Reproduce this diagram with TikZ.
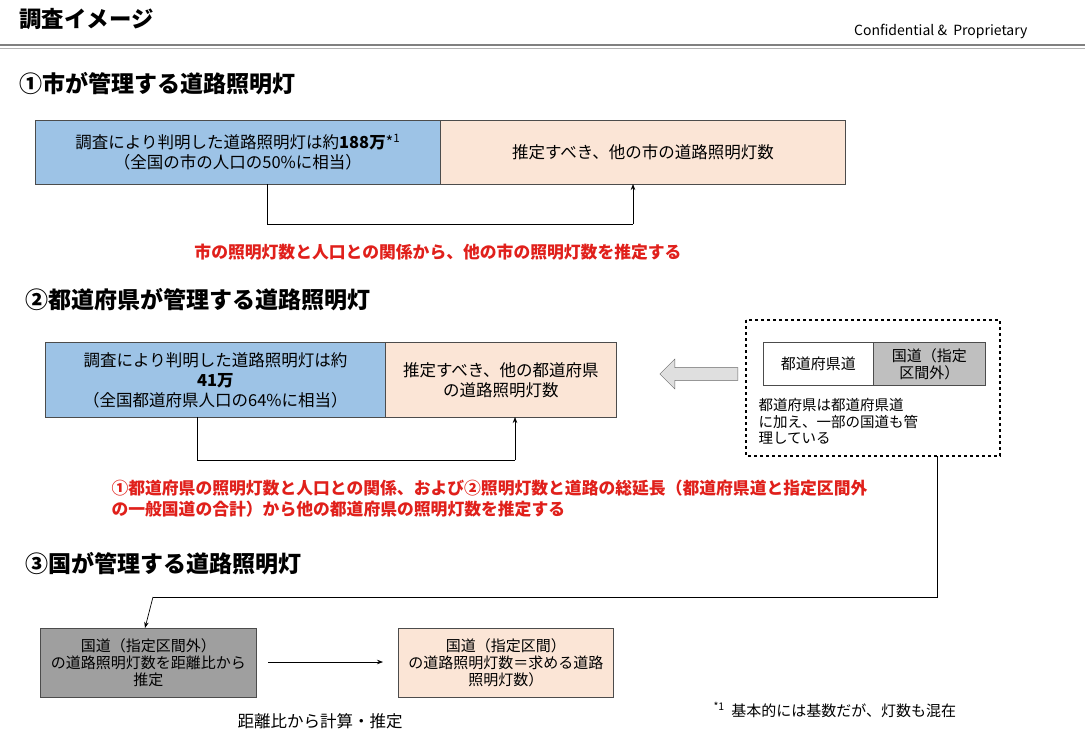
\documentclass[tikz,border=0pt]{standalone}
\usepackage{fontspec}
\setmainfont{Noto Sans CJK JP}
\usetikzlibrary{arrows.meta,shapes.arrows}
\definecolor{bl}{HTML}{9DC3E6}
\definecolor{pe}{HTML}{FBE5D6}
\definecolor{rd}{HTML}{E0201B}
\begin{document}
\begin{tikzpicture}[x=1pt,y=-1pt,
 bx/.style={draw=black!70,line width=0.8pt,align=center,inner sep=0pt,anchor=north west},
 hd/.style={font=\fontsize{23}{26}\selectfont\bfseries,anchor=west},
 bt/.style={font=\fontsize{16.5}{20}\selectfont},
 st/.style={font=\fontsize{15}{17}\selectfont},
 rt/.style={font=\fontsize{16.8}{21}\selectfont\bfseries,text=rd,align=left},
 con/.style={line width=0.7pt},
 arr/.style={line width=0.7pt,-{Stealth[length=6pt]}}]
\useasboundingbox (0,0) rectangle (1085,744);
\node[hd,font=\fontsize{22.4}{26}\selectfont\bfseries] (title) at (16,19) {調査イメージ};
\node[anchor=east,font=\fontsize{14}{16}\selectfont] (conf) at (1031,31) {Confidential \&\ \ Proprietary};
\draw[gray,line width=1.5pt] (0,45) -- (1085,45);
\draw[gray!60,line width=1pt] (0,48.5) -- (1085,48.5);
\node[hd] (h1) at (16,84) {①市が管理する道路照明灯};
\node[bx,fill=bl,minimum width=405,minimum height=64,bt] (b1) at (35,120) {調査により判明した道路照明灯は約\textbf{188万}*\textsuperscript{1}\\（全国の市の人口の50\%に相当）};
\node[bx,fill=pe,minimum width=405,minimum height=64,bt] (b2) at (440,120) {推定すべき、他の市の道路照明灯数};
\coordinate (c1) at (267,224);\coordinate (c2) at (633,224);
\draw[con] (267,184) -- (c1) -- (c2);
\draw[arr] (c2) -- (633,184);
\node[rt] (r1) at (438,252) {市の照明灯数と人口との関係から、他の市の照明灯数を推定する};
\node[hd] (h2) at (22,300) {②都道府県が管理する道路照明灯};
\node[bx,fill=bl,minimum width=340,minimum height=75,bt] (b3) at (45,342) {調査により判明した道路照明灯は約\\\textbf{41万}\\（全国都道府県人口の64\%に相当）};
\node[bx,fill=pe,minimum width=231,minimum height=75,bt] (b4) at (385,342) {推定すべき、他の都道府県\\の道路照明灯数};
\coordinate (c3) at (197,460);\coordinate (c4) at (515,460);
\draw[con] (197,417) -- (c3) -- (c4);
\draw[arr] (c4) -- (515,417);
\node[single arrow,shape border rotate=180,draw=black!60,fill=gray!25,minimum height=78,minimum width=30,single arrow head extend=3pt,inner sep=2pt] (ba) at (702,374) {};
\draw[dashed,line width=1.2pt] (746,320) rectangle (1000,456);
\node[bx,fill=white,minimum width=110,minimum height=43,st] (b7) at (763,342) {都道府県道};
\node[bx,fill=gray!50,minimum width=112,minimum height=43,st] (b8) at (873,342) {国道（指定\\区間外）};
\node[anchor=north west,align=left,font=\fontsize{14.5}{16.5}\selectfont] (n1) at (755,395) {都道府県は都道府県道\\に加え、一部の国道も管\\理している};
\node[rt,anchor=north west] (r2) at (108,476) {①都道府県の照明灯数と人口との関係、および②照明灯数と道路の総延長（都道府県道と指定区間外\\の一般国道の合計）から他の都道府県の照明灯数を推定する};
\node[hd] (h3) at (22,564) {③国が管理する道路照明灯};
\node[bx,fill=gray!75,minimum width=216,minimum height=69,st] (b5) at (40,628) {国道（指定区間外）\\の道路照明灯数を距離比から\\推定};
\node[bx,fill=pe,minimum width=215,minimum height=69,st] (b6) at (398,628) {国道（指定区間）\\の道路照明灯数＝求める道路\\照明灯数）};
\coordinate (c5) at (937,597);\coordinate (c6) at (153,597);
\draw[con] (937,456) -- (c5) -- (c6);
\draw[arr] (c6) -- (145,628);
\draw[arr] (268,662) -- (383,662);
\node[bt] (n2) at (320,721) {距離比から計算・推定};
\node[anchor=west,st] (n3) at (710,710) {\textsuperscript{*1}\ \ 基本的には基数だが、灯数も混在};
\end{tikzpicture}
\end{document}
